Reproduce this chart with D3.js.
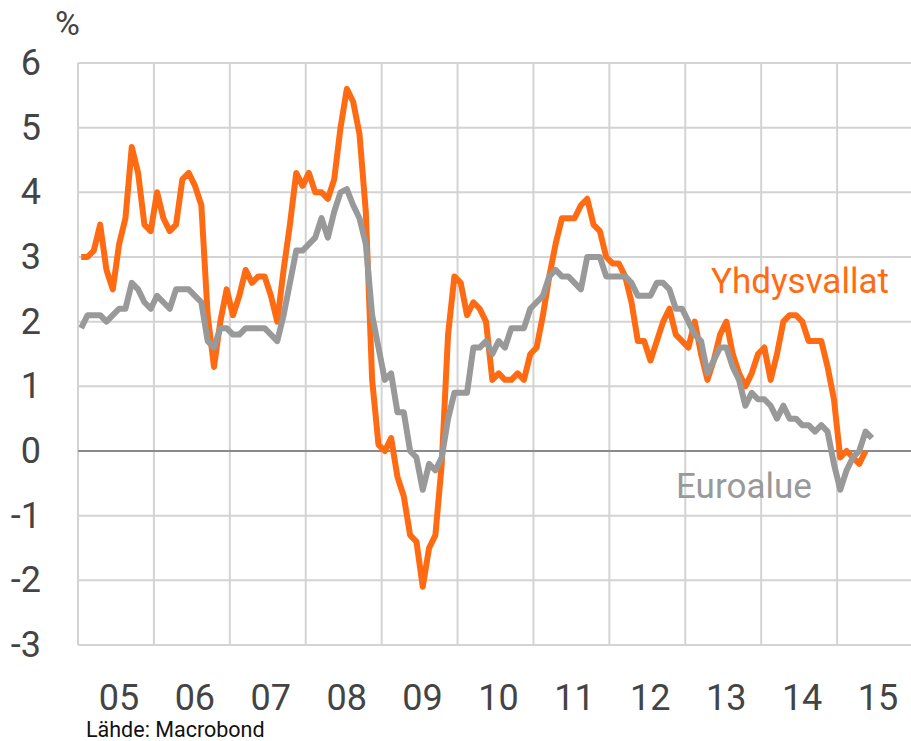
<!DOCTYPE html>
<html>
<head>
<meta charset="utf-8">
<script src="https://cdn.jsdelivr.net/npm/d3@7"></script>
<style>
  body { margin: 0; background: #fff; }
  svg text { font-family: Roboto, "Liberation Sans", sans-serif; }
</style>
</head>
<body>
<svg id="chart" width="911" height="741"></svg>
<script>
// monthly y/y inflation, Jan 2005 onward
var startYear = 2005;
var usCpi = [
  3.0, 3.0, 3.1, 3.5, 2.8, 2.5, 3.2, 3.6, 4.7, 4.3, 3.5, 3.4,
  4.0, 3.6, 3.4, 3.5, 4.2, 4.3, 4.1, 3.8, 2.1, 1.3, 2.0, 2.5,
  2.1, 2.4, 2.8, 2.6, 2.7, 2.7, 2.4, 2.0, 2.8, 3.5, 4.3, 4.1,
  4.3, 4.0, 4.0, 3.9, 4.2, 5.0, 5.6, 5.4, 4.9, 3.7, 1.1, 0.1,
  0.0, 0.2, -0.4, -0.7, -1.3, -1.4, -2.1, -1.5, -1.3, -0.2, 1.8, 2.7,
  2.6, 2.1, 2.3, 2.2, 2.0, 1.1, 1.2, 1.1, 1.1, 1.2, 1.1, 1.5,
  1.6, 2.1, 2.7, 3.2, 3.6, 3.6, 3.6, 3.8, 3.9, 3.5, 3.4, 3.0,
  2.9, 2.9, 2.7, 2.3, 1.7, 1.7, 1.4, 1.7, 2.0, 2.2, 1.8, 1.7,
  1.6, 2.0, 1.5, 1.1, 1.4, 1.8, 2.0, 1.5, 1.2, 1.0, 1.2, 1.5,
  1.6, 1.1, 1.5, 2.0, 2.1, 2.1, 2.0, 1.7, 1.7, 1.7, 1.3, 0.8,
  -0.1, 0.0, -0.1, -0.2, 0.0
];
var euroHicp = [
  1.9, 2.1, 2.1, 2.1, 2.0, 2.1, 2.2, 2.2, 2.6, 2.5, 2.3, 2.2,
  2.4, 2.3, 2.2, 2.5, 2.5, 2.5, 2.4, 2.3, 1.7, 1.6, 1.9, 1.9,
  1.8, 1.8, 1.9, 1.9, 1.9, 1.9, 1.8, 1.7, 2.1, 2.6, 3.1, 3.1,
  3.2, 3.3, 3.6, 3.3, 3.7, 4.0, 4.05, 3.8, 3.6, 3.2, 2.1, 1.6,
  1.1, 1.2, 0.6, 0.6, 0.0, -0.1, -0.6, -0.2, -0.3, -0.1, 0.5, 0.9,
  0.9, 0.9, 1.6, 1.6, 1.7, 1.5, 1.7, 1.6, 1.9, 1.9, 1.9, 2.2,
  2.3, 2.4, 2.7, 2.8, 2.7, 2.7, 2.6, 2.5, 3.0, 3.0, 3.0, 2.7,
  2.7, 2.7, 2.7, 2.6, 2.4, 2.4, 2.4, 2.6, 2.6, 2.5, 2.2, 2.2,
  2.0, 1.8, 1.7, 1.2, 1.4, 1.6, 1.6, 1.3, 1.1, 0.7, 0.9, 0.8,
  0.8, 0.7, 0.5, 0.7, 0.5, 0.5, 0.4, 0.4, 0.3, 0.4, 0.3, -0.2,
  -0.6, -0.3, -0.1, 0.0, 0.3, 0.2
];
var yearTicks = [2005, 2006, 2007, 2008, 2009, 2010, 2011, 2012, 2013, 2014, 2015];
var yTicks = [-3, -2, -1, 0, 1, 2, 3, 4, 5, 6];
var seriesNames = ["Yhdysvallat", "Euroalue"];
var source = "Lähde: Macrobond";

var orange = "#ff6b12", grey = "#999999";
var plotL = 78, plotT = 63, plotR = 913, plotB = 645;

var svg = d3.select("#chart");
var x = d3.scaleLinear().domain([2005, 2016]).range([plotL, plotR]);
var y = d3.scaleLinear().domain([-3, 6]).range([plotB, plotT]);

function toPoints(arr) {
  return arr.map(function (v, i) { return { t: startYear + (i + 0.5) / 12, v: v }; });
}

// grid
var grid = svg.append("g");
grid.selectAll("line.h").data(yTicks.filter(function (d) { return d !== 0; })).enter()
  .append("line")
  .attr("x1", plotL).attr("x2", plotR)
  .attr("y1", function (d) { return y(d); }).attr("y2", function (d) { return y(d); })
  .attr("stroke", "#d3d3d3").attr("stroke-width", 2);
grid.selectAll("line.v").data(yearTicks).enter()
  .append("line")
  .attr("x1", function (d) { return x(d); }).attr("x2", function (d) { return x(d); })
  .attr("y1", plotT).attr("y2", plotB)
  .attr("stroke", "#d3d3d3").attr("stroke-width", 2);
grid.append("line")
  .attr("x1", plotL).attr("x2", plotR).attr("y1", y(0)).attr("y2", y(0))
  .attr("stroke", "#8a8a8a").attr("stroke-width", 2);

// y labels
svg.append("g").selectAll("text").data(yTicks).enter()
  .append("text")
  .attr("x", 41).attr("y", function (d) { return y(d) + 12; })
  .attr("text-anchor", "end")
  .attr("font-size", 36).attr("fill", "#444")
  .text(function (d) { return d; });
svg.append("text").attr("x", 55).attr("y", 35)
  .attr("font-size", 34).attr("fill", "#444").text("%");

// x labels
svg.append("g").selectAll("text").data(yearTicks).enter()
  .append("text")
  .attr("x", function (d) { return x(d + 0.5) + 3; }).attr("y", 710)
  .attr("text-anchor", "middle")
  .attr("font-size", 36).attr("fill", "#444")
  .text(function (d) { return String(d).slice(2); });

var line = d3.line().x(function (d) { return x(d.t); }).y(function (d) { return y(d.v); });

svg.append("path").datum(toPoints(usCpi))
  .attr("d", line).attr("fill", "none")
  .attr("stroke", orange).attr("stroke-width", 6).attr("stroke-linejoin", "round");
svg.append("path").datum(toPoints(euroHicp))
  .attr("d", line).attr("fill", "none")
  .attr("stroke", grey).attr("stroke-width", 6).attr("stroke-linejoin", "round");

svg.append("text").attr("x", 711).attr("y", 293)
  .attr("font-size", 35).attr("fill", orange).text(seriesNames[0]);
svg.append("text").attr("x", 676).attr("y", 498)
  .attr("font-size", 35).attr("fill", grey).text(seriesNames[1]);

svg.append("text").attr("x", 86).attr("y", 737)
  .attr("font-size", 21.5).attr("fill", "#111").text(source);
</script>
</body>
</html>
